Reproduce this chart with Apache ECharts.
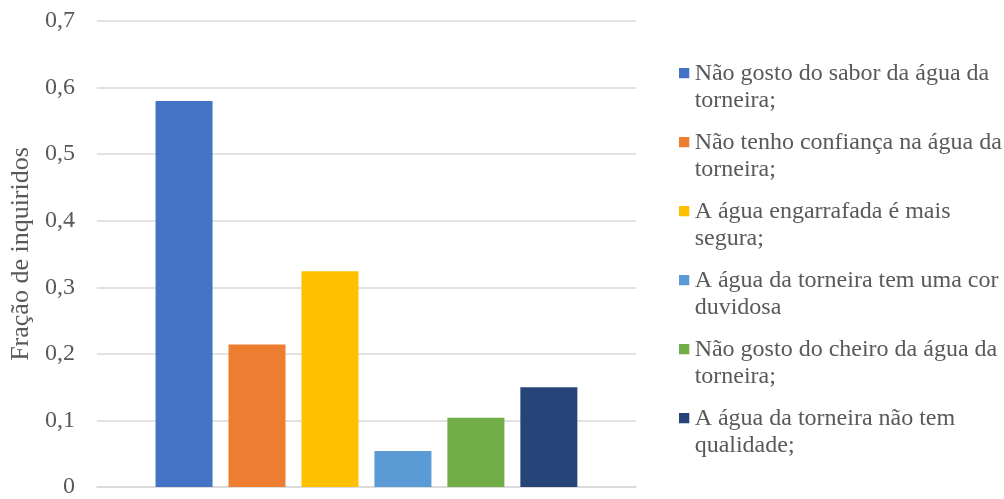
<!DOCTYPE html>
<html>
<head>
<meta charset="utf-8">
<script src="https://cdn.jsdelivr.net/npm/echarts@6/dist/echarts.min.js"></script>
<style>
  html, body { margin: 0; padding: 0; background: #fff; }
  #main { width: 1004px; height: 499px; }
</style>
</head>
<body>
<div id="main"></div>
<script>
// motivos (legenda) e fração de inquiridos
var motivos = [
    'Não gosto do sabor da água da torneira;',
    'Não tenho confiança na água da torneira;',
    'A água engarrafada é mais segura;',
    'A água da torneira tem uma cor duvidosa',
    'Não gosto do cheiro da água da torneira;',
    'A água da torneira não tem qualidade;'
];
var fracao = [0.58, 0.214, 0.324, 0.054, 0.104, 0.15];
var cores = ['#4472C4', '#ED7D31', '#FFC000', '#5B9BD5', '#70AD47', '#264478'];
var categorias = [''];

var font = '"Liberation Serif", "Times New Roman", serif';
var legendSize = 24;

// quebra de linha por palavras, medindo com o canvas
var measureCtx = document.createElement('canvas').getContext('2d');
measureCtx.font = legendSize + 'px ' + font;
function wrap(text, maxWidth) {
    var words = text.split(' ');
    var lines = [];
    var line = '';
    words.forEach(function (w) {
        var test = line ? line + ' ' + w : w;
        if (line && measureCtx.measureText(test).width > maxWidth) {
            lines.push(line);
            line = w;
        } else {
            line = test;
        }
    });
    lines.push(line);
    return lines.join('\n');
}

var chartDom = document.getElementById('main');
var myChart = echarts.init(chartDom);

var series = motivos.map(function (nome, i) {
    return {
        name: nome,
        type: 'bar',
        data: [fracao[i]],
        barWidth: 57,
        barGap: '28%',
        itemStyle: { color: cores[i] }
    };
});

var option = {
    animation: false,
    textStyle: { fontFamily: font },
    grid: { left: 95, right: 368, top: 21, bottom: 7, containLabel: false },
    legend: {
        orient: 'vertical',
        left: 679,
        top: 60,
        padding: 0,
        // quadrado no topo da caixa do ícone, para alinhar com a 1.ª linha
        icon: 'path://M0,0L10,0L10,10L0,10Z M0,37L0.01,37',
        itemWidth: 11,
        itemHeight: 38,
        itemGap: 15,
        formatter: function (name) {
            return wrap(name, 312);
        },
        textStyle: {
            fontFamily: font,
            fontSize: legendSize,
            color: '#595959',
            lineHeight: 27
        },
        data: motivos
    },
    xAxis: {
        type: 'category',
        data: categorias,
        axisLine: { lineStyle: { color: '#d9d9d9', width: 1.5 } },
        axisTick: { show: false },
        axisLabel: { show: false }
    },
    yAxis: {
        type: 'value',
        min: 0,
        max: 0.7,
        interval: 0.1,
        name: 'Fração de inquiridos',
        nameLocation: 'middle',
        nameGap: 59,
        nameTextStyle: { fontFamily: font, fontSize: 26, color: '#595959' },
        axisLine: { show: false },
        axisTick: { show: false },
        axisLabel: {
            fontFamily: font,
            fontSize: 24,
            color: '#595959',
            margin: 22,
            formatter: function (v) {
                return String(Math.round(v * 10) / 10).replace('.', ',');
            }
        },
        splitLine: { lineStyle: { color: '#d9d9d9', width: 1.5 } }
    },
    series: series
};

option && myChart.setOption(option);
</script>
</body>
</html>
